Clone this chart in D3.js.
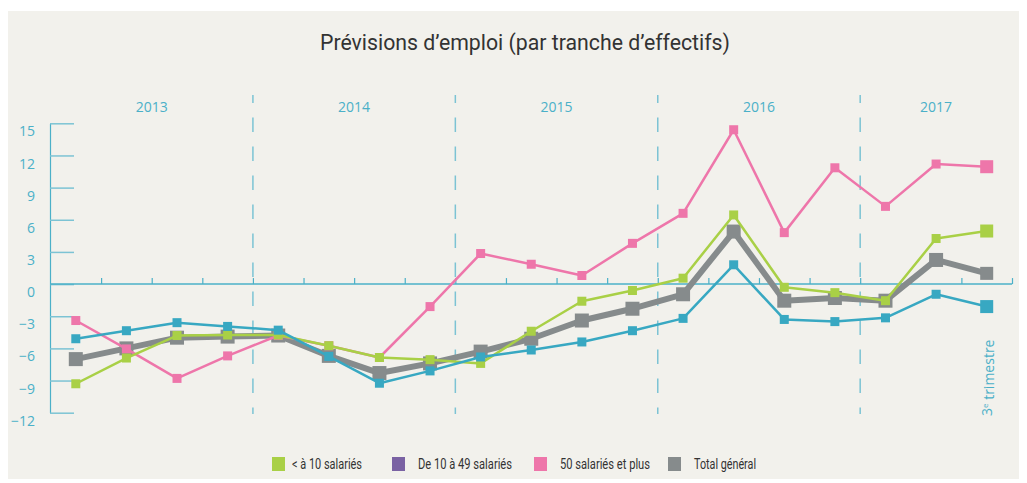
<!DOCTYPE html>
<html>
<head>
<meta charset="utf-8">
<script src="https://cdn.jsdelivr.net/npm/d3@7"></script>
<style>
  body { margin: 0; background: #fff; }
  svg text { font-family: "Open Sans", sans-serif; }
</style>
</head>
<body>
<div id="chart"></div>
<script>
// data
const quarters = ["2013T1","2013T2","2013T3","2013T4","2014T1","2014T2","2014T3","2014T4",
  "2015T1","2015T2","2015T3","2015T4","2016T1","2016T2","2016T3","2016T4","2017T1","2017T2","2017T3"];
const years = ["2013","2014","2015","2016","2017"];
const yTicks = [-12, -9, -6, -3, 0, 3, 6, 9, 12, 15];

const moins10 = [-9.3,-6.9,-4.8,-4.75,-4.75,-5.75,-6.85,-7.05,-7.4,-4.4,-1.6,-0.6,0.55,6.45,-0.3,-0.8,-1.55,4.25,4.95];
const de10a49 = [-5.1,-4.35,-3.6,-3.95,-4.3,-6.75,-9.25,-8.1,-6.8,-6.15,-5.4,-4.35,-3.2,1.8,-3.3,-3.5,-3.15,-0.95,-2.1];
const plus50 = [-3.4,-6.05,-8.8,-6.7,-4.8,-5.75,-6.85,-2.1,2.85,1.85,0.8,3.8,6.6,14.4,4.8,10.85,7.25,11.2,10.95];
const total = [-7.0,-6.0,-5.0,-4.9,-4.8,-6.7,-8.3,-7.4,-6.3,-5.1,-3.4,-2.3,-0.95,4.9,-1.55,-1.3,-1.55,2.25,1.0];

const teal = "#4bb0c8";
const series = [
  { name: "Total général", values: total, color: "#868b8c", width: 6, size: 14 },
  { name: "50 salariés et plus", values: plus50, color: "#ee76aa", width: 2.5, size: 9 },
  { name: "< à 10 salariés", values: moins10, color: "#a9d046", width: 2.5, size: 9 },
  { name: "De 10 à 49 salariés", values: de10a49, color: "#38a8c2", width: 2.5, size: 9 }
];
const legendItems = [
  { name: "< à 10 salariés", color: "#a9d046", w: 70 },
  { name: "De 10 à 49 salariés", color: "#7a62a3", w: 94 },
  { name: "50 salariés et plus", color: "#ee76aa", w: 90 },
  { name: "Total général", color: "#868b8c", w: 62 }
];

const width = 1027, height = 483;
const svg = d3.select("#chart").append("svg").attr("width", width).attr("height", height);

// panel
svg.append("rect").attr("x", 8).attr("y", 11).attr("width", 1011).attr("height", 468).attr("fill", "#f2f1ec");

const x = d3.scaleBand().domain(quarters).range([50.5, 1012]);
const xIdx = d3.scaleLinear().domain([0, quarters.length]).range([50.5, 1012]);
const y = d3.scaleLinear().domain([-12, 15]).range([412.7, 123.3]);

// title
svg.append("text").attr("x", 320).attr("y", 50)
  .style("font-family", "'Roboto', sans-serif")
  .style("font-size", "22px").attr("fill", "#333")
  .attr("textLength", 410).attr("lengthAdjust", "spacingAndGlyphs")
  .text("Prévisions d’emploi (par tranche d’effectifs)");

// year separators
const yearBounds = years.slice(1).map((yr, i) => (i + 1) * 4);
svg.selectAll(".sep").data(yearBounds).enter().append("line")
  .attr("x1", d => xIdx(d)).attr("x2", d => xIdx(d))
  .attr("y1", 95).attr("y2", 414)
  .attr("stroke", "#7cc3d4").attr("stroke-width", 1.5)
  .attr("stroke-dasharray", "14.5,14.5").attr("stroke-dashoffset", 6.5);

// year labels
svg.selectAll(".yr").data(years).enter().append("text")
  .attr("x", (d, i) => (xIdx(i * 4) + xIdx(Math.min((i + 1) * 4, quarters.length))) / 2)
  .attr("y", 112).attr("text-anchor", "middle")
  .style("font-size", "14px").attr("fill", teal).text(d => d);

// y axis
const yAxis = d3.axisLeft(y).tickValues(yTicks).tickSizeInner(-24).tickSizeOuter(0).tickPadding(15);
const gy = svg.append("g").attr("transform", "translate(50,0)").call(yAxis);
gy.select(".domain").attr("stroke", teal).attr("stroke-width", 1.2);
gy.selectAll(".tick line").attr("stroke", "#7cc3d4").attr("stroke-width", 1.5);
gy.selectAll(".tick text").attr("fill", teal).attr("dy", "0.9em")
  .style("font-size", "14px").style("font-family", "'Open Sans', sans-serif");

// zero line with small quarter ticks
const xAxis = d3.axisTop(xIdx).tickValues(d3.range(1, quarters.length + 1)).tickSize(6).tickFormat("");
const gx = svg.append("g").attr("transform", `translate(0,${y(0)})`).call(xAxis);
gx.select(".domain").attr("stroke", teal).attr("stroke-width", 1.5).attr("d", `M50,0H1012`);
gx.selectAll(".tick line").attr("stroke", teal).attr("stroke-width", 1.2);

// lines and markers
const line = d3.line().x((d, i) => x(quarters[i]) + x.bandwidth() / 2).y(d => y(d));
series.forEach(s => {
  svg.append("path").datum(s.values).attr("d", line)
    .attr("fill", "none").attr("stroke", s.color).attr("stroke-width", s.width)
    .attr("stroke-linejoin", "round");
  const sz = (i) => i === s.values.length - 1 ? 13 : s.size;
  svg.selectAll(null).data(s.values).enter().append("rect")
    .attr("width", (d, i) => sz(i)).attr("height", (d, i) => sz(i))
    .attr("x", (d, i) => x(quarters[i]) + x.bandwidth() / 2 - sz(i) / 2)
    .attr("y", (d, i) => y(d) - sz(i) / 2)
    .attr("fill", s.color);
});

// last quarter note
const lastX = x(quarters[quarters.length - 1]) + x.bandwidth() / 2;
const note = svg.append("text").attr("transform", `translate(${lastX + 5},416) rotate(-90)`)
  .style("font-size", "14px").attr("fill", teal);
note.append("tspan").text("3");
note.append("tspan").attr("dy", "-0.45em").style("font-size", "8px").text("e");
note.append("tspan").attr("dy", "0.45em").text(" trimestre");

// legend
const legendX = [272, 392, 534, 668];
const lg = svg.selectAll(".lg").data(legendItems).enter().append("g")
  .attr("transform", (d, i) => `translate(${legendX[i]},457)`);
lg.append("rect").attr("width", 13).attr("height", 14).attr("fill", d => d.color);
lg.append("text").attr("x", (d, i) => i === 0 ? 20 : 26).attr("y", 12)
  .style("font-family", "'Roboto', sans-serif")
  .style("font-size", "14px").attr("fill", "#333")
  .attr("textLength", d => d.w).attr("lengthAdjust", "spacingAndGlyphs")
  .text(d => d.name);
</script>
</body>
</html>
